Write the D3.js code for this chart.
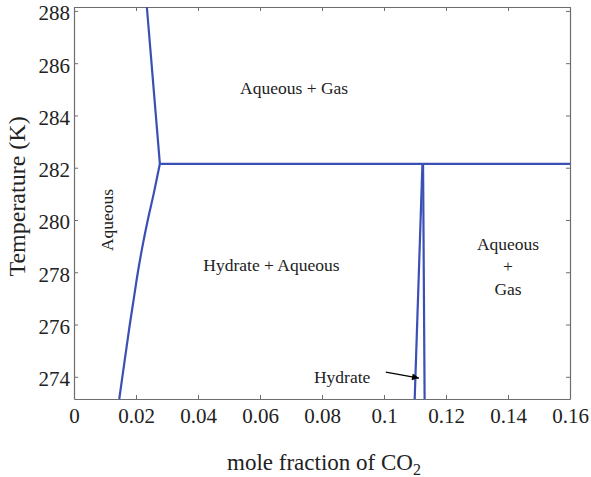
<!DOCTYPE html>
<html><head><meta charset="utf-8">
<script src="https://cdn.jsdelivr.net/npm/d3@7"></script>
<style>
body{margin:0;background:#fff;}
text{font-family:"Liberation Serif","Times New Roman",serif;fill:#222;}
</style></head>
<body><svg id="c" width="591" height="477"></svg>
<script>
// ---- data ----
const xTicks = [0, 0.02, 0.04, 0.06, 0.08, 0.1, 0.12, 0.14, 0.16];
const xTickLabels = ["0", "0.02", "0.04", "0.06", "0.08", "0.1", "0.12", "0.14", "0.16"];
const yTicks = [274, 276, 278, 280, 282, 284, 286, 288];
const xDomain = [0, 0.16];
const yDomain = [273.15, 288.15];

// aqueous / aqueous+gas boundary (above quadruple point)
const upperX = [0.0235, 0.0256, 0.0277];
const upperT = [288.15, 285.15, 282.15];
// aqueous / hydrate+aqueous boundary
const aqX = [0.0277, 0.0257, 0.0238, 0.0221, 0.0206, 0.0193, 0.0180, 0.0168, 0.0156, 0.0146];
const aqT = [282.15, 281, 280, 279, 278, 277, 276, 275, 274, 273.15];
// three-phase line
const threeX = [0.0277, 0.16];
const threeT = [282.15, 282.15];
// hydrate region boundaries
const hydLeftX = [0.1099, 0.1124];
const hydLeftT = [273.15, 282.15];
const hydRightX = [0.1131, 0.1126];
const hydRightT = [273.15, 282.15];
// arrow for "Hydrate" label
const arrowX = [0.1006, 0.1113];
const arrowT = [274.18, 273.95];

const labels = [
  {t:"Aqueous + Gas", x:0.0710, y:285.05, rot:false},
  {t:"Hydrate + Aqueous", x:0.0637, y:278.3, rot:false},
  {t:"Aqueous", x:0.0107, y:280.0, rot:true},
  {t:"Aqueous", x:0.140, y:279.1, rot:false},
  {t:"+", x:0.140, y:278.25, rot:false},
  {t:"Gas", x:0.140, y:277.35, rot:false},
  {t:"Hydrate", x:0.0865, y:274.0, rot:false}
];

// ---- layout ----
const W = 591, H = 477;
const m = {left:74, right:21, top:7, bottom:78};
const svg = d3.select("#c");
const x = d3.scaleLinear().domain(xDomain).range([m.left, W - m.right]);
const y = d3.scaleLinear().domain(yDomain).range([H - m.bottom, m.top]);
const axisColor = "#6e6e6e";
const lineColor = "#3a50b4";

function styleAxis(g){
  g.selectAll(".domain").attr("stroke", axisColor).attr("stroke-width", 1.2);
  g.selectAll(".tick line").attr("stroke", axisColor).attr("stroke-width", 1);
  g.selectAll(".tick text").attr("fill", "#222")
    .style("font-family", '"Liberation Serif","Times New Roman",serif').style("font-size", "21px");
}

svg.append("g").attr("transform", `translate(0,${H - m.bottom})`)
  .call(d3.axisBottom(x).tickValues(xTicks).tickFormat((d,i)=>xTickLabels[i]).tickSizeInner(-4).tickSizeOuter(0).tickPadding(9))
  .call(styleAxis);
svg.append("g").attr("transform", `translate(${m.left},0)`)
  .call(d3.axisLeft(y).tickValues(yTicks).tickFormat(d3.format("d")).tickSizeInner(-4).tickSizeOuter(0).tickPadding(4))
  .call(styleAxis)
  .call(g => g.selectAll(".tick text").attr("dy", "0.42em"));
svg.append("g").attr("transform", `translate(0,${m.top})`)
  .call(d3.axisTop(x).tickValues(xTicks).tickFormat("").tickSizeInner(-4).tickSizeOuter(0))
  .call(styleAxis);
svg.append("g").attr("transform", `translate(${W - m.right},0)`)
  .call(d3.axisRight(y).tickValues(yTicks).tickFormat("").tickSizeInner(-4).tickSizeOuter(0))
  .call(styleAxis);

// ---- lines ----
const line = d3.line().x(d => x(d[0])).y(d => y(d[1]));
const zipP = (a, b) => a.map((v, i) => [v, b[i]]);
const plot = svg.append("g").attr("fill", "none").attr("stroke", lineColor).attr("stroke-width", 2.2).attr("stroke-linejoin", "round");
[[upperX, upperT], [aqX, aqT], [threeX, threeT], [hydLeftX, hydLeftT], [hydRightX, hydRightT]]
  .forEach(([a, b]) => plot.append("path").attr("d", d3.line().x(d => x(d[0])).y(d => y(d[1])).curve(d3.curveCatmullRom)(zipP(a, b))));

// ---- arrow ----
svg.append("defs").append("marker").attr("id", "ah").attr("viewBox", "0 0 10 10")
  .attr("refX", 10).attr("refY", 5).attr("markerWidth", 9).attr("markerHeight", 7)
  .attr("markerUnits", "userSpaceOnUse").attr("orient", "auto")
  .append("path").attr("d", "M0,0L10,5L0,10z").attr("fill", "#000");
svg.append("path").attr("d", line(zipP(arrowX, arrowT)))
  .attr("stroke", "#000").attr("stroke-width", 1.3).attr("fill", "none").attr("marker-end", "url(#ah)");

// ---- region labels ----
labels.forEach(l => {
  const t = svg.append("text").attr("text-anchor", "middle").attr("dy", "0.35em")
    .style("font-size", "17.5px").text(l.t);
  if (l.rot) t.attr("transform", `translate(${x(l.x)},${y(l.y)}) rotate(-90)`);
  else t.attr("x", x(l.x)).attr("y", y(l.y));
});

// ---- axis titles ----
const xt = svg.append("text").attr("x", 324).attr("y", 470).attr("text-anchor", "middle").style("font-size", "23px");
xt.append("tspan").text("mole fraction of CO");
xt.append("tspan").attr("dy", "0.3em").style("font-size", "16px").text("2");
svg.append("text").attr("transform", `translate(25,${y(280.9)}) rotate(-90)`).attr("text-anchor", "middle")
  .style("font-size", "24px").text("Temperature (K)");
</script></body></html>
